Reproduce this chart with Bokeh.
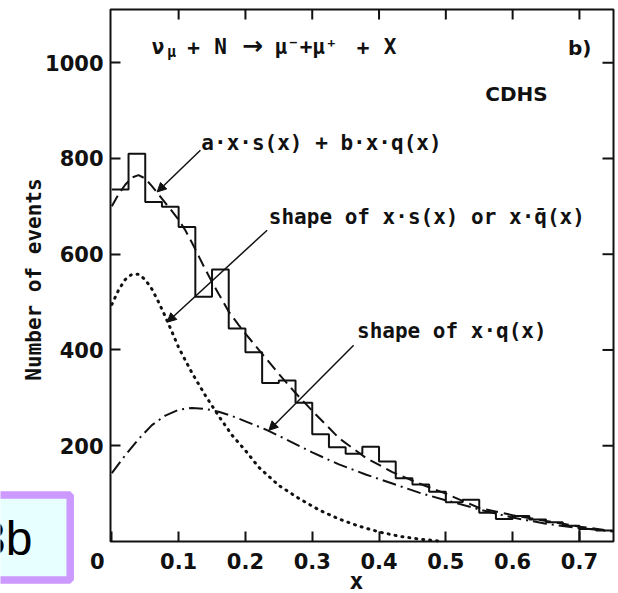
import math
from bokeh.plotting import figure
from bokeh.models import Range1d, FixedTicker, Label, Arrow, NormalHead, BoxAnnotation
from bokeh.embed import file_html
from bokeh.resources import INLINE

# ---------------- data ----------------
bin_edges = [0.0, 0.025, 0.05, 0.075, 0.1, 0.125, 0.15, 0.175, 0.2, 0.225, 0.25,
             0.275, 0.3, 0.325, 0.35, 0.375, 0.4, 0.425, 0.45, 0.475, 0.5,
             0.525, 0.55, 0.575, 0.6, 0.625, 0.65, 0.675, 0.7, 0.725, 0.75]
events = [735, 810, 709, 699, 657, 511, 568, 445, 395, 331,
          336, 290, 224, 197, 183, 198, 167, 132, 119, 104,
          82, 87, 60, 47, 53, 46, 40, 33, 26, 23]

total_x = [0.0, 0.01, 0.02, 0.03, 0.04, 0.05, 0.06, 0.07, 0.08, 0.09, 0.10, 0.11,
           0.12, 0.13, 0.14, 0.15, 0.16, 0.175, 0.19, 0.2, 0.225, 0.25, 0.275,
           0.3, 0.34, 0.38, 0.42, 0.46, 0.5, 0.55, 0.6, 0.65, 0.7, 0.75]
total_y = [700, 725, 745, 760, 765, 758, 742, 725, 707, 690, 672, 650,
           624, 596, 568, 542, 517, 480, 452, 434, 392, 350, 310,
           273, 216, 175, 145, 121, 100, 70, 55, 43, 31, 22]

xs_x = [0.0, 0.01, 0.02, 0.03, 0.04, 0.05, 0.06, 0.07, 0.08, 0.09, 0.10, 0.12,
        0.14, 0.16, 0.18, 0.20, 0.22, 0.25, 0.28, 0.31, 0.34, 0.37, 0.40,
        0.43, 0.46, 0.49]
xs_y = [495, 525, 547, 558, 558, 547, 527, 500, 470, 438, 405, 352,
        305, 262, 222, 190, 155, 117, 90, 66, 47, 32, 20,
        11, 5, 1]

xq_x = [0.0, 0.02, 0.04, 0.06, 0.08, 0.10, 0.12, 0.14, 0.16, 0.18, 0.20, 0.23,
        0.26, 0.30, 0.34, 0.38, 0.42, 0.46, 0.50, 0.55, 0.60, 0.65, 0.70, 0.75]
xq_y = [143, 180, 214, 243, 263, 275, 279, 277, 271, 262, 251, 234,
        214, 186, 161, 140, 121, 102, 86, 67, 50, 37, 28, 21]

x_ticks = [0.0, 0.1, 0.2, 0.3, 0.4, 0.5, 0.6, 0.7]
x_tick_labels = ["0\u00a0\u00a0\u00a0\u00a0", "0.1", "0.2", "0.3", "0.4", "0.5", "0.6", "0.7"]
y_ticks = [200, 400, 600, 800, 1000]

# limits of the plot box (axis extents)
x_lo, x_hi = -0.002, 0.751
y_lo, y_hi = 0, 1111

# annotation arrows: (tail_x, tail_y, head_x, head_y)
arrow_total = (0.1326, 817, 0.0678, 730)
arrow_xs = (0.2325, 650, 0.0828, 458)
arrow_xq = (0.362, 410, 0.235, 232)

INK = "#111111"
MONO = "DejaVu Sans Mono"
SANS = "DejaVu Sans"

# page geometry: plot box spans pixels 110..613 horizontally and 9..541 vertically
W, H = 618, 593
BOX_L, BOX_R, BOX_T, BOX_B = 110, 613, 9, 541
sx = (BOX_R - BOX_L) / (x_hi - x_lo)
sy = (BOX_B - BOX_T) / (y_hi - y_lo)

def px2x(px):
    return x_lo + (px - BOX_L) / sx

def py2y(py):
    return y_lo + (BOX_B - py) / sy

p = figure(width=W, height=H,
           x_range=Range1d(px2x(0), px2x(W)), y_range=Range1d(py2y(H), py2y(0)),
           output_backend="svg", toolbar_location=None, min_border=0)
p.title.visible = False
p.background_fill_color = "white"
p.border_fill_color = "white"
p.outline_line_color = None
p.xgrid.visible = False
p.ygrid.visible = False

p.xaxis[0].fixed_location = y_lo
p.yaxis[0].fixed_location = x_lo
for ax, ticks, standoff in ((p.xaxis[0], x_ticks, 8), (p.yaxis[0], y_ticks, 7)):
    ax.ticker = FixedTicker(ticks=ticks)
    ax.major_tick_in = 10
    ax.major_tick_out = 0
    ax.major_tick_line_width = 2
    ax.major_tick_line_color = INK
    ax.minor_tick_line_color = None
    ax.axis_line_color = None
    ax.major_label_text_font = SANS
    ax.major_label_text_font_style = "bold"
    ax.major_label_text_font_size = "21px"
    ax.major_label_text_color = INK
    ax.major_label_standoff = standoff
p.xaxis[0].major_label_overrides = dict(zip(x_ticks, x_tick_labels))

# plot box
p.add_layout(BoxAnnotation(left=x_lo, right=x_hi, bottom=y_lo, top=y_hi,
                           fill_color=None, line_color=INK, line_alpha=1.0, line_width=2))
# mirrored inward ticks on the top and right edges
p.ray(x=x_ticks[1:], y=[y_hi] * (len(x_ticks) - 1), length=10, length_units="screen",
      angle=-math.pi / 2, line_color=INK, line_width=2)
p.ray(x=[x_hi] * len(y_ticks), y=y_ticks, length=11, length_units="screen",
      angle=math.pi, line_color=INK, line_width=2)

# histogram
p.step(x=bin_edges, y=events + [events[-1]], mode="after", line_color=INK, line_width=2)
p.segment(x0=[bin_edges[-3]], y0=[0], x1=[bin_edges[-3]], y1=[events[-3]], line_color=INK, line_width=2)

# curves
p.line(total_x, total_y, line_color=INK, line_width=2, line_dash="12 6")
p.line(xs_x, xs_y, line_color=INK, line_width=3, line_dash="1 6", line_cap="round")
p.line(xq_x, xq_y, line_color=INK, line_width=2, line_dash="14 5 2 5")

for a in (arrow_total, arrow_xs, arrow_xq):
    p.add_layout(Arrow(x_start=a[0], y_start=a[1], x_end=a[2], y_end=a[3],
                       line_color=INK, line_width=1.5,
                       end=NormalHead(size=9, fill_color=INK, line_color=INK)))

YS = 16.7  # lift of text baselines, data units (~8 px)

def txt(x, y, s, font=MONO, size="21px", align="left", baseline="alphabetic", angle=0.0, lift=YS):
    p.add_layout(Label(x=x, y=y + lift, text=s, text_font=font, text_font_size=size,
                       text_font_style="bold", text_color=INK, text_align=align,
                       text_baseline=baseline, angle=angle))

# reaction formula, token by token
txt(0.0691, 1017, "ν", align="center")
txt(0.0893, 1006, "μ", size="15px", align="center")
txt(0.1223, 1017, "+", align="center")
txt(0.1627, 1017, "N", align="center")
txt(px2x(252), 1019, "→", font=SANS, size="25px", align="center")
txt(0.2907, 1017, "μ⁻+μ⁺", align="center")
txt(0.3760, 1017, "+", align="center")
txt(0.4164, 1017, "X", align="center")

txt(0.718, 1014, "b)", font=SANS, size="20px", align="right")
txt(0.559, 917, "CDHS", font=SANS, size="20px")
txt(0.134, 815, "a·x·s(x) + b·x·q(x)")
txt(0.235, 662, "shape of x·s(x) or x·q\u0304(x)")
txt(0.367, 422, "shape of x·q(x)")

# axis titles
txt(px2x(356), py2y(588), "x", size="23px", align="center")
txt(px2x(33), py2y(279), "Number of events", align="center", baseline="middle",
    angle=math.pi / 2, lift=0)

# slide-number box in the lower-left corner of the page
p.add_layout(BoxAnnotation(left=px2x(-20), right=px2x(69.7), top=py2y(494.5), bottom=py2y(579.5),
                           fill_color="#e8ffff", fill_alpha=1.0,
                           line_color="#cc99ff", line_alpha=1.0, line_width=7.5))
p.add_layout(Label(x=px2x(32), y=py2y(538), text="3b",
                   text_align="right", text_baseline="middle",
                   text_font="Liberation Sans", text_font_size="48px", text_color="black"))

open("out.html", "w").write(file_html(p, INLINE))
